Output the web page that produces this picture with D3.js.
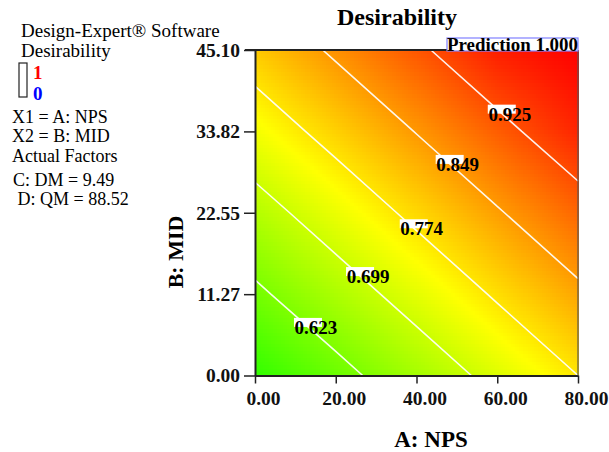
<!DOCTYPE html>
<html>
<head>
<meta charset="utf-8">
<script src="https://cdn.jsdelivr.net/npm/d3@7"></script>
<style>
  body { margin: 0; background: #fff; }
  text { font-family: "Liberation Serif", "Times New Roman", serif; }
</style>
</head>
<body>
<script>
// Factor grid (A: NPS across, B: MID up)
const npsTicks = [0, 20, 40, 60, 80];
const midTicks = [0, 11.27, 22.55, 33.82, 45.10];

// Desirability at the grid points, one row per MID tick
const desirability = [
  [0.548, 0.604, 0.661, 0.717, 0.774],
  [0.612, 0.668, 0.724, 0.781, 0.837],
  [0.675, 0.731, 0.788, 0.844, 0.900],
  [0.739, 0.795, 0.851, 0.908, 0.964],
  [0.802, 0.858, 0.915, 0.971, 1.000]
];

// Contour levels shown on the plot
const levels = [0.623, 0.699, 0.774, 0.849, 0.925];

const infoLines = [
  "X1 = A: NPS",
  "X2 = B: MID",
  "Actual Factors",
  "C: DM = 9.49",
  " D: QM = 88.52"
];

const W = 609, H = 452;
const plot = { left: 255, right: 578, top: 50, bottom: 375.5 };

const x = d3.scaleLinear().domain([0, 80]).range([plot.left, plot.right]);
const y = d3.scaleLinear().domain([0, 45.10]).range([plot.bottom, plot.top]);

// Design-Expert style colour ramp over 0..1
const color = d3.scaleLinear()
  .domain([0, 0.25, 0.5, 0.75, 1])
  .range(["#0000ff", "#00ffff", "#00ff00", "#ffff00", "#ff0000"]);

const svg = d3.select("body").append("svg")
  .attr("width", W)
  .attr("height", H);

// bilinear lookup inside the read grid
function valueAt(a, b) {
  let i = Math.min(npsTicks.length - 2, d3.bisectRight(npsTicks, a) - 1);
  let j = Math.min(midTicks.length - 2, d3.bisectRight(midTicks, b) - 1);
  i = Math.max(0, i); j = Math.max(0, j);
  const tx = (a - npsTicks[i]) / (npsTicks[i + 1] - npsTicks[i]);
  const ty = (b - midTicks[j]) / (midTicks[j + 1] - midTicks[j]);
  const v00 = desirability[j][i], v10 = desirability[j][i + 1];
  const v01 = desirability[j + 1][i], v11 = desirability[j + 1][i + 1];
  return (v00 * (1 - tx) + v10 * tx) * (1 - ty) + (v01 * (1 - tx) + v11 * tx) * ty;
}

// Shaded surface
const NX = 160, NY = 90;
const cells = [];
for (let j = 0; j < NY; j++) {
  for (let i = 0; i < NX; i++) {
    const a0 = 80 * i / NX, a1 = 80 * (i + 1) / NX;
    const b0 = 45.10 * j / NY, b1 = 45.10 * (j + 1) / NY;
    cells.push({ a0, a1, b0, b1, v: valueAt((a0 + a1) / 2, (b0 + b1) / 2) });
  }
}

svg.append("g")
  .attr("shape-rendering", "crispEdges")
  .selectAll("rect")
  .data(cells)
  .join("rect")
  .attr("x", d => x(d.a0))
  .attr("y", d => y(d.b1))
  .attr("width", d => x(d.a1) - x(d.a0) + 0.6)
  .attr("height", d => y(d.b0) - y(d.b1) + 0.6)
  .attr("fill", d => color(d.v));

// Contour segments by marching squares on the read grid
function contourSegments(level) {
  const segs = [];
  for (let j = 0; j < midTicks.length - 1; j++) {
    for (let i = 0; i < npsTicks.length - 1; i++) {
      const corners = [
        [npsTicks[i], midTicks[j], desirability[j][i]],
        [npsTicks[i + 1], midTicks[j], desirability[j][i + 1]],
        [npsTicks[i + 1], midTicks[j + 1], desirability[j + 1][i + 1]],
        [npsTicks[i], midTicks[j + 1], desirability[j + 1][i]]
      ];
      const pts = [];
      for (let k = 0; k < 4; k++) {
        const p = corners[k], q = corners[(k + 1) % 4];
        if ((p[2] >= level) !== (q[2] >= level)) {
          const t = (level - p[2]) / (q[2] - p[2]);
          pts.push([p[0] + t * (q[0] - p[0]), p[1] + t * (q[1] - p[1])]);
        }
      }
      if (pts.length >= 2) segs.push([pts[0], pts[1]]);
      if (pts.length === 4) segs.push([pts[2], pts[3]]);
    }
  }
  return segs;
}

const contours = levels.map(level => ({ level, segs: contourSegments(level) }));

svg.append("g")
  .selectAll("path")
  .data(contours)
  .join("path")
  .attr("d", d => d.segs.map(s =>
    `M${x(s[0][0])},${y(s[0][1])}L${x(s[1][0])},${y(s[1][1])}`).join(""))
  .attr("fill", "none")
  .attr("stroke", "#ffffff")
  .attr("stroke-opacity", 0.92)
  .attr("stroke-width", 1.6);

// Contour labels, placed at a chosen NPS along each line
const labelAt = [15.1, 28.0, 41.3, 50.2, 63.1];

function contourY(segs, a) {
  for (const s of segs) {
    const lo = Math.min(s[0][0], s[1][0]), hi = Math.max(s[0][0], s[1][0]);
    if (a >= lo && a <= hi && hi > lo) {
      const t = (a - s[0][0]) / (s[1][0] - s[0][0]);
      return s[0][1] + t * (s[1][1] - s[0][1]);
    }
  }
  return 0;
}

const labels = svg.append("g")
  .selectAll("g")
  .data(contours)
  .join("g")
  .attr("transform", (d, i) =>
    `translate(${x(labelAt[i])},${y(contourY(d.segs, labelAt[i]))})`);

labels.append("rect")
  .attr("x", -22)
  .attr("y", -16)
  .attr("width", 28)
  .attr("height", 9)
  .attr("fill", "#fff");

labels.append("text")
  .attr("x", 0)
  .attr("y", 0)
  .attr("text-anchor", "middle")
  .style("font-size", "19px")
  .style("font-weight", "bold")
  .text(d => d3.format(".3f")(d.level));

// Axes
const xAxis = svg.append("g")
  .attr("transform", `translate(0,${plot.bottom})`)
  .call(d3.axisBottom(x).tickValues(npsTicks).tickFormat(d3.format(".2f"))
    .tickSize(8).tickSizeOuter(0).tickPadding(8));
xAxis.selectAll(".tick text").attr("dx", 8);

const yAxis = svg.append("g")
  .attr("transform", `translate(${plot.left},0)`)
  .call(d3.axisLeft(y).tickValues(midTicks).tickFormat(d3.format(".2f"))
    .tickSize(11).tickSizeOuter(0).tickPadding(4));

[xAxis, yAxis].forEach(ax => {
  ax.select(".domain").attr("stroke", "#222").attr("stroke-width", 2);
  ax.selectAll(".tick line").attr("stroke", "#222").attr("stroke-width", 1.5);
  ax.selectAll(".tick text")
    .attr("fill", "#111")
    .style("font-family", "\"Liberation Serif\", \"Times New Roman\", serif")
    .style("font-size", "19.5px")
    .style("font-weight", "bold");
});

// plot frame: top and right
svg.append("line")
  .attr("x1", plot.left - 10).attr("x2", plot.right)
  .attr("y1", plot.top).attr("y2", plot.top)
  .attr("stroke", "#222").attr("stroke-width", 2);
svg.append("line")
  .attr("x1", plot.right).attr("x2", plot.right)
  .attr("y1", plot.top).attr("y2", plot.bottom)
  .attr("stroke", "#555").attr("stroke-width", 1.2);

// Prediction box
svg.append("rect")
  .attr("x", 447).attr("y", 38)
  .attr("width", plot.right - 447).attr("height", 13)
  .attr("fill", "#fff")
  .attr("stroke", "#8080ff")
  .attr("stroke-width", 1.2);
svg.append("text")
  .attr("x", 447).attr("y", 50.5)
  .style("font-size", "19px")
  .style("font-weight", "bold")
  .attr("textLength", plot.right - 447)
  .attr("lengthAdjust", "spacingAndGlyphs")
  .text("Prediction 1.000");

// Titles
svg.append("text")
  .attr("x", 397).attr("y", 25)
  .attr("text-anchor", "middle")
  .style("font-size", "24px")
  .style("font-weight", "bold")
  .text("Desirability");

svg.append("text")
  .attr("x", 431).attr("y", 447)
  .attr("text-anchor", "middle")
  .style("font-size", "23px")
  .style("font-weight", "bold")
  .text("A: NPS");

svg.append("text")
  .attr("transform", "translate(183,252) rotate(-90)")
  .attr("text-anchor", "middle")
  .style("font-size", "22px")
  .style("font-weight", "bold")
  .text("B: MID");

// Left info panel
svg.append("text").attr("x", 21).attr("y", 37)
  .style("font-size", "19px").text("Design-Expert® Software");
svg.append("text").attr("x", 21).attr("y", 57)
  .style("font-size", "19px").text("Desirability");

svg.append("rect")
  .attr("x", 19).attr("y", 63)
  .attr("width", 8).attr("height", 34)
  .attr("fill", "none").attr("stroke", "#222").attr("stroke-width", 1.2);
svg.append("text").attr("x", 33).attr("y", 79)
  .attr("fill", "#ff0000").style("font-size", "19px").style("font-weight", "bold")
  .text("1");
svg.append("text").attr("x", 33).attr("y", 100)
  .attr("fill", "#0000ff").style("font-size", "19px").style("font-weight", "bold")
  .text("0");

const infoY = [123, 142, 162, 186, 205];
svg.append("g")
  .selectAll("text")
  .data(infoLines)
  .join("text")
  .attr("x", (d, i) => i < 3 ? 12 : 13)
  .attr("y", (d, i) => infoY[i])
  .attr("xml:space", "preserve")
  .style("white-space", "pre")
  .style("font-size", "18px")
  .text(d => d);
</script>
</body>
</html>
